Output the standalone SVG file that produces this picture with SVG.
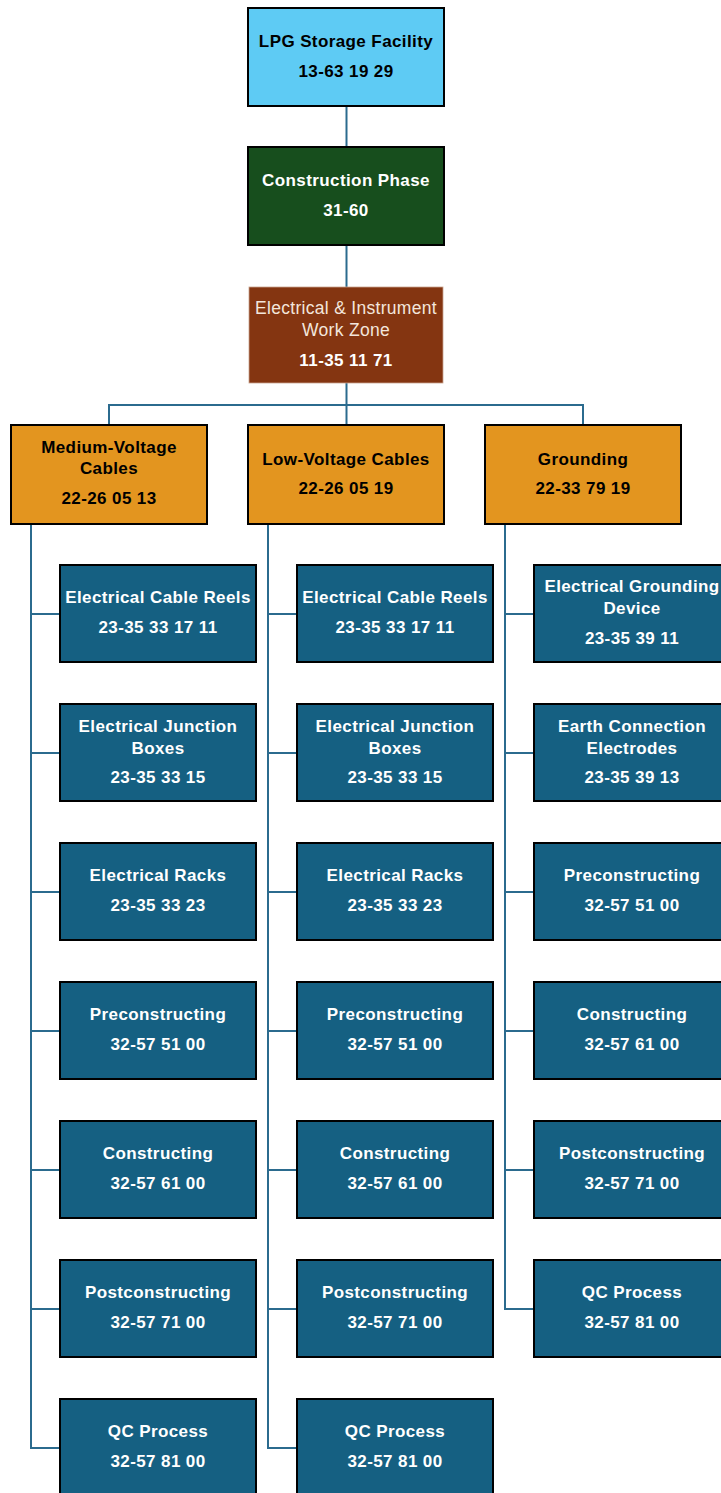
<svg xmlns="http://www.w3.org/2000/svg" width="721" height="1493" viewBox="0 0 721 1493">
  <style>
    .box { stroke: #000; stroke-width: 2; }
    .root { fill: #5ECBF4; }
    .phase { fill: #174E1D; }
    .zone { fill: #843511; stroke: #C9A48E; stroke-width: 0.8; }
    .cat { fill: #E3951F; }
    .item { fill: #156082; }
    text { font-family: "Liberation Sans", Arial, sans-serif; font-size: 17px; letter-spacing: 0.4px; text-anchor: middle; }
    .b { font-weight: 700; }
    .dk { fill: #000; }
    .lt { fill: #fff; }
    .zt { fill: #F3E6DC; font-weight: 400; font-size: 17.5px; letter-spacing: 0.3px; }
    .wire { fill: none; stroke: #2B6B8E; stroke-width: 2; }
  </style>

  <!-- connectors -->
  <g id="connectors" class="wire">
    <path d="M346.5 106V147"/>
    <path d="M346.5 245V287"/>
    <path d="M346.5 383V405"/>
    <path d="M109 425V405H583V425"/>
    <path d="M346.5 405V425"/>
    <!-- medium-voltage branch -->
    <path d="M31 524V1448H60"/>
    <path d="M31 614H60M31 753H60M31 892H60M31 1031H60M31 1170H60M31 1309H60"/>
    <!-- low-voltage branch -->
    <path d="M268 524V1448H297"/>
    <path d="M268 614H297M268 753H297M268 892H297M268 1031H297M268 1170H297M268 1309H297"/>
    <!-- grounding branch -->
    <path d="M505 524V1309H534"/>
    <path d="M505 614H534M505 753H534M505 892H534M505 1031H534M505 1170H534"/>
  </g>

  <!-- top levels -->
  <g id="lpg-storage">
    <rect class="box root" x="248" y="8" width="196" height="98"/>
    <text class="b dk" x="346" y="47">LPG Storage Facility</text>
    <text class="b dk" x="346" y="77">13-63 19 29</text>
  </g>
  <g id="construction-phase">
    <rect class="box phase" x="248" y="147" width="196" height="98"/>
    <text class="b lt" x="346" y="186">Construction Phase</text>
    <text class="b lt" x="346" y="216">31-60</text>
  </g>
  <g id="work-zone">
    <rect class="zone" x="249" y="287" width="194" height="96"/>
    <text class="zt" x="346" y="314">Electrical &amp; Instrument</text>
    <text class="zt" x="346" y="336">Work Zone</text>
    <text class="b lt" x="346" y="366">11-35 11 71</text>
  </g>

  <!-- categories -->
  <g id="medium-voltage">
    <rect class="box cat" x="11" y="425" width="196" height="99"/>
    <text class="b dk" x="109" y="453">Medium-Voltage</text>
    <text class="b dk" x="109" y="474">Cables</text>
    <text class="b dk" x="109" y="504">22-26 05 13</text>
  </g>
  <g id="low-voltage">
    <rect class="box cat" x="248" y="425" width="196" height="99"/>
    <text class="b dk" x="346" y="465">Low-Voltage Cables</text>
    <text class="b dk" x="346" y="494">22-26 05 19</text>
  </g>
  <g id="grounding">
    <rect class="box cat" x="485" y="425" width="196" height="99"/>
    <text class="b dk" x="583" y="465">Grounding</text>
    <text class="b dk" x="583" y="494">22-33 79 19</text>
  </g>

  <!-- medium-voltage items -->
  <g id="mv-cable-reels">
    <rect class="box item" x="60" y="565" width="196" height="97"/>
    <text class="b lt" x="158" y="603">Electrical Cable Reels</text>
    <text class="b lt" x="158" y="633">23-35 33 17 11</text>
  </g>
  <g id="mv-junction-boxes">
    <rect class="box item" x="60" y="704" width="196" height="97"/>
    <text class="b lt" x="158" y="732">Electrical Junction</text>
    <text class="b lt" x="158" y="754">Boxes</text>
    <text class="b lt" x="158" y="783">23-35 33 15</text>
  </g>
  <g id="mv-racks">
    <rect class="box item" x="60" y="843" width="196" height="97"/>
    <text class="b lt" x="158" y="881">Electrical Racks</text>
    <text class="b lt" x="158" y="911">23-35 33 23</text>
  </g>
  <g id="mv-preconstructing">
    <rect class="box item" x="60" y="982" width="196" height="97"/>
    <text class="b lt" x="158" y="1020">Preconstructing</text>
    <text class="b lt" x="158" y="1050">32-57 51 00</text>
  </g>
  <g id="mv-constructing">
    <rect class="box item" x="60" y="1121" width="196" height="97"/>
    <text class="b lt" x="158" y="1159">Constructing</text>
    <text class="b lt" x="158" y="1189">32-57 61 00</text>
  </g>
  <g id="mv-postconstructing">
    <rect class="box item" x="60" y="1260" width="196" height="97"/>
    <text class="b lt" x="158" y="1298">Postconstructing</text>
    <text class="b lt" x="158" y="1328">32-57 71 00</text>
  </g>
  <g id="mv-qc">
    <rect class="box item" x="60" y="1399" width="196" height="97"/>
    <text class="b lt" x="158" y="1437">QC Process</text>
    <text class="b lt" x="158" y="1467">32-57 81 00</text>
  </g>

  <!-- low-voltage items -->
  <g id="lv-cable-reels">
    <rect class="box item" x="297" y="565" width="196" height="97"/>
    <text class="b lt" x="395" y="603">Electrical Cable Reels</text>
    <text class="b lt" x="395" y="633">23-35 33 17 11</text>
  </g>
  <g id="lv-junction-boxes">
    <rect class="box item" x="297" y="704" width="196" height="97"/>
    <text class="b lt" x="395" y="732">Electrical Junction</text>
    <text class="b lt" x="395" y="754">Boxes</text>
    <text class="b lt" x="395" y="783">23-35 33 15</text>
  </g>
  <g id="lv-racks">
    <rect class="box item" x="297" y="843" width="196" height="97"/>
    <text class="b lt" x="395" y="881">Electrical Racks</text>
    <text class="b lt" x="395" y="911">23-35 33 23</text>
  </g>
  <g id="lv-preconstructing">
    <rect class="box item" x="297" y="982" width="196" height="97"/>
    <text class="b lt" x="395" y="1020">Preconstructing</text>
    <text class="b lt" x="395" y="1050">32-57 51 00</text>
  </g>
  <g id="lv-constructing">
    <rect class="box item" x="297" y="1121" width="196" height="97"/>
    <text class="b lt" x="395" y="1159">Constructing</text>
    <text class="b lt" x="395" y="1189">32-57 61 00</text>
  </g>
  <g id="lv-postconstructing">
    <rect class="box item" x="297" y="1260" width="196" height="97"/>
    <text class="b lt" x="395" y="1298">Postconstructing</text>
    <text class="b lt" x="395" y="1328">32-57 71 00</text>
  </g>
  <g id="lv-qc">
    <rect class="box item" x="297" y="1399" width="196" height="97"/>
    <text class="b lt" x="395" y="1437">QC Process</text>
    <text class="b lt" x="395" y="1467">32-57 81 00</text>
  </g>

  <!-- grounding items -->
  <g id="gr-device">
    <rect class="box item" x="534" y="565" width="196" height="97"/>
    <text class="b lt" x="632" y="592">Electrical Grounding</text>
    <text class="b lt" x="632" y="614">Device</text>
    <text class="b lt" x="632" y="644">23-35 39 11</text>
  </g>
  <g id="gr-electrodes">
    <rect class="box item" x="534" y="704" width="196" height="97"/>
    <text class="b lt" x="632" y="732">Earth Connection</text>
    <text class="b lt" x="632" y="754">Electrodes</text>
    <text class="b lt" x="632" y="783">23-35 39 13</text>
  </g>
  <g id="gr-preconstructing">
    <rect class="box item" x="534" y="843" width="196" height="97"/>
    <text class="b lt" x="632" y="881">Preconstructing</text>
    <text class="b lt" x="632" y="911">32-57 51 00</text>
  </g>
  <g id="gr-constructing">
    <rect class="box item" x="534" y="982" width="196" height="97"/>
    <text class="b lt" x="632" y="1020">Constructing</text>
    <text class="b lt" x="632" y="1050">32-57 61 00</text>
  </g>
  <g id="gr-postconstructing">
    <rect class="box item" x="534" y="1121" width="196" height="97"/>
    <text class="b lt" x="632" y="1159">Postconstructing</text>
    <text class="b lt" x="632" y="1189">32-57 71 00</text>
  </g>
  <g id="gr-qc">
    <rect class="box item" x="534" y="1260" width="196" height="97"/>
    <text class="b lt" x="632" y="1298">QC Process</text>
    <text class="b lt" x="632" y="1328">32-57 81 00</text>
  </g>
</svg>
